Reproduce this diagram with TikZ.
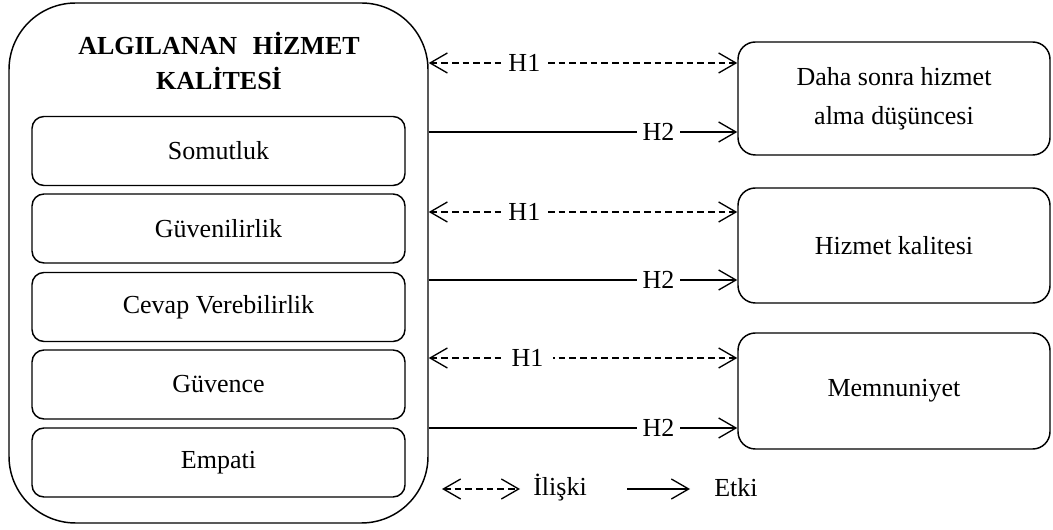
\documentclass[tikz,border=0pt]{standalone}
\usepackage{fontspec}
\setmainfont{Liberation Serif}
\usetikzlibrary{arrows.meta,calc}
\begin{document}
\begin{tikzpicture}[x=0.75pt,y=-0.75pt,
  font=\fontsize{19.5pt}{29pt}\selectfont,
  tip/.tip={Straight Barb[length=13pt,width=15pt,line width=1pt]},
  outerbox/.style={draw, line width=1.1pt, rounded corners=50pt, minimum width=314.25pt, minimum height=390pt, inner sep=0pt},
  dimbox/.style={draw, line width=1.1pt, rounded corners=9pt, minimum width=279.75pt, minimum height=51.75pt, inner sep=0pt},
  outbox/.style={draw, line width=1.1pt, rounded corners=13pt, minimum width=234pt, align=center, inner sep=0pt},
  rel/.style={line width=0.9pt, dash pattern=on 5pt off 3pt, {tip}-{tip}},
  eff/.style={line width=0.9pt, -{tip}},
  lab/.style={fill=white, inner xsep=4pt, inner ysep=0pt}
]
\useasboundingbox (0,0) rectangle (1053,530);

% left big box
\node[outerbox] (outer) at (218.5,263) {};
\node[font=\fontsize{19.5pt}{26pt}\selectfont\bfseries, align=center] (title) at (219,61) {ALGILANAN\hspace{0.35em} HİZMET\\KALİTESİ};

\node[dimbox] (d1) at (218.5,151) {Somutluk};
\node[dimbox] (d2) at (218.5,228.5) {Güvenilirlik};
\node[dimbox] (d3) at (218.5,307) {Cevap Verebilirlik};
\node[dimbox] (d4) at (218.5,384.5) {Güvence};
\node[dimbox] (d5) at (218.5,462.5) {Empati};

% right boxes
\node[outbox, minimum height=84.75pt] (r1) at (894,98.5) {Daha sonra hizmet\\alma düşüncesi};
\node[outbox, minimum height=86.25pt] (r2) at (894,245.5) {Hizmet kalitesi};
\node[outbox, minimum height=87pt] (r3) at (894,391) {Memnuniyet};

% arrow heights
\coordinate (y1a) at (0,63);
\coordinate (y1b) at (0,132);
\coordinate (y2a) at (0,212);
\coordinate (y2b) at (0,280);
\coordinate (y3a) at (0,358);
\coordinate (y3b) at (0,428);

\draw[rel] (outer.east |- y1a) -- (r1.west |- y1a) node[lab, pos=0.31] (h11) {H1};
\draw[eff] (outer.east |- y1b) -- (r1.west |- y1b) node[lab, pos=0.745] (h21) {H2};
\draw[rel] (outer.east |- y2a) -- (r2.west |- y2a) node[lab, pos=0.31] (h12) {H1};
\draw[eff] (outer.east |- y2b) -- (r2.west |- y2b) node[lab, pos=0.745] (h22) {H2};
\draw[rel] (outer.east |- y3a) -- (r3.west |- y3a) node[lab, pos=0.32, inner xsep=7pt] (h13) {H1};
\draw[eff] (outer.east |- y3b) -- (r3.west |- y3b) node[lab, pos=0.745] (h23) {H2};

% legend
\coordinate (l1) at (442,489);
\coordinate (l2) at (520,489);
\node (lrel) at (560,488) {İlişki};
\coordinate (l3) at (627,489);
\coordinate (l4) at (690,489);
\node (leff) at (736,488) {Etki};
\draw[rel] (l1) -- (l2);
\draw[eff] (l3) -- (l4);
\end{tikzpicture}
\end{document}
